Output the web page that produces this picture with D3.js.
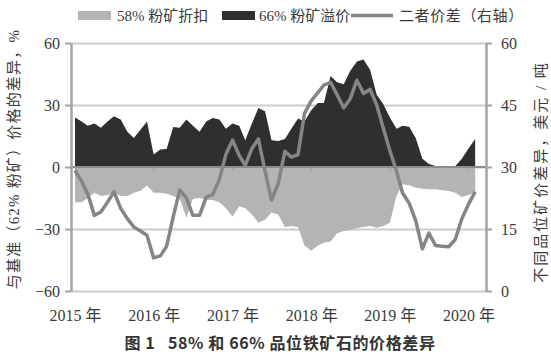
<!DOCTYPE html>
<html>
<head>
<meta charset="utf-8">
<script src="https://cdn.jsdelivr.net/npm/d3@7"></script>
<style>
  body { margin: 0; background: #fff; }
  svg { display: block; }
</style>
</head>
<body>
<div id="vis-container"></div>
<script>
const width = 551,
      height = 354,
      margin = {
          top: 43,
          bottom: 63,
          left: 71,
          right: 65,
      };

// monthly points, Jan 2015 .. Feb 2020
const startMonth = new Date(2015, 0, 1);

// 58% fines discount vs 62% benchmark, % (left axis)
const discount58 = [-17, -17, -15, -12.5, -14, -13.5, -12.5, -14, -14, -12.5,
    -11.5, -9, -12.5, -12.5, -13, -14, -15.5, -24.5, -15.5, -15,
    -16, -16, -17, -20, -24, -19, -20, -23, -27, -25.5,
    -22, -23, -29, -28.5, -29, -38, -40.5, -38, -36.6, -36,
    -32, -31, -30.5, -29.5, -29, -28.5, -29.4, -28.5, -27, -14,
    -8.4, -8.8, -10, -10.5, -10.8, -10.8, -11.2, -11.6, -12.5, -14.5,
    -13.5, -12.4];

// 66% fines premium vs 62% benchmark, % (left axis)
const premium66 = [24, 22, 20, 21, 19, 22, 24.5, 23, 17, 14,
    18, 22, 6, 8.5, 8.7, 19.4, 19, 23, 20, 17,
    22, 23.7, 23, 18.5, 21, 20, 13, 21, 28.5, 27,
    13, 12.6, 13.5, 18.5, 23.5, 22, 27.5, 31, 31, 44,
    41, 40, 46.5, 51, 52, 47, 35, 30.5, 24, 18.5,
    20, 19.5, 14, 4, 1.5, 0.5, 0.5, 0.5, 0.5, 4,
    9, 13.5];

// spread between the two, USD/t (right axis)
const spread = [29.2, 26.5, 23.5, 18.3, 19.1, 21.5, 24, 20, 17.5, 15.5,
    14.5, 13.5, 8, 8.5, 10.8, 18, 24.4, 22.5, 18.3, 18.3,
    22.7, 23.3, 27, 33, 36.5, 32.8, 30.4, 34.5, 36.8, 29,
    22, 26, 33.8, 32.4, 33, 43, 46, 48, 49.8, 50.5,
    47.5, 44.3, 46.5, 51, 47.8, 48.8, 45, 39.5, 34, 29,
    23.7, 21.2, 17, 10.2, 14, 11, 10.8, 10.7, 12.5, 17.5,
    21, 24];

const leftTicks = [-60, -30, 0, 30, 60];
const rightTicks = [0, 15, 30, 45, 60];
const years = [2015, 2016, 2017, 2018, 2019, 2020];

const legendLabels = ["58% 粉矿折扣", "66% 粉矿溢价", "二者价差（右轴）"];
const leftTitle = "与基准（62% 粉矿）价格的差异，%";
const rightTitle = "不同品位矿价差异，美元 / 吨";
const caption = "图 1   58% 和 66% 品位铁矿石的价格差异";

const colLight = "#b4b4b4",
      colDark = "#2f2f2f",
      colLine = "#858585",
      colGrid = "#cccccc",
      colAxis = "#a3a3a3",
      colText = "#3a3a3a";

const serif = "'Liberation Serif', 'Noto Sans CJK SC', serif";

var dataset = discount58.map(function(d, i) {
    return {
        date: d3.timeMonth.offset(startMonth, i),
        d58: d,
        p66: premium66[i],
        spread: spread[i]
    };
});

var plotLeft = margin.left,
    plotRight = width - margin.right,
    plotTop = margin.top,
    plotBottom = height - margin.bottom;

// ******* Scales *******
var x = d3.scaleTime()
    .domain([new Date(2015, 0, 1), new Date(2020, 0, 1)])
    .range([75, 468.5]);
var yL = d3.scaleLinear().domain([-60, 60]).range([plotBottom, plotTop]);
var yR = d3.scaleLinear().domain([0, 60]).range([plotBottom, plotTop]);

var svg = d3.select("#vis-container").append("svg")
    .attr("width", width)
    .attr("height", height);

// gridlines
svg.append("g")
    .attr("transform", `translate(${plotLeft} 0)`)
    .call(d3.axisLeft(yL).tickValues(leftTicks).tickSize(-(plotRight - plotLeft)).tickFormat(""))
    .call(g => g.select(".domain").remove())
    .call(g => g.selectAll("line").attr("stroke", colGrid).attr("stroke-width", 2));

// areas
svg.append("path")
    .datum(dataset)
    .attr("fill", colLight)
    .attr("d", d3.area().x(d => x(d.date)).y0(yL(0)).y1(d => yL(d.d58)));

svg.append("path")
    .datum(dataset)
    .attr("fill", colDark)
    .attr("d", d3.area().x(d => x(d.date)).y0(yL(0)).y1(d => yL(d.p66)));

// zero line with year ticks
svg.append("g")
    .attr("transform", `translate(0 ${yL(0)})`)
    .call(d3.axisBottom(x).ticks(d3.timeYear).tickSize(3).tickFormat(""))
    .call(g => g.select(".domain").attr("d", `M${plotLeft},0H${plotRight}`).attr("stroke", "#8c8c8c").attr("stroke-width", 2))
    .call(g => g.selectAll(".tick line").attr("stroke", "#9a9a9a"));

// spread line
svg.append("path")
    .datum(dataset)
    .attr("fill", "none")
    .attr("stroke", colLine)
    .attr("stroke-width", 3.5)
    .attr("stroke-linejoin", "round")
    .attr("d", d3.line().x(d => x(d.date)).y(d => yR(d.spread)));

// left axis
svg.append("g")
    .attr("transform", `translate(${plotLeft} 0)`)
    .call(d3.axisLeft(yL).tickValues(leftTicks).tickSize(6).tickPadding(5).tickSizeOuter(0)
        .tickFormat(d => d < 0 ? "\u2212" + Math.abs(d) : d))
    .call(g => g.select(".domain").attr("stroke", colAxis).attr("stroke-width", 2.5))
    .call(g => g.selectAll(".tick line").attr("stroke", colAxis).attr("stroke-width", 2))
    .call(g => g.selectAll("text").attr("font-family", serif).attr("font-size", 16).attr("fill", colText));

// right axis
svg.append("g")
    .attr("transform", `translate(${plotRight} 0)`)
    .call(d3.axisRight(yR).tickValues(rightTicks).tickSize(6).tickPadding(9).tickSizeOuter(0))
    .call(g => g.select(".domain").attr("stroke", colAxis).attr("stroke-width", 2.5))
    .call(g => g.selectAll(".tick line").attr("stroke", colAxis).attr("stroke-width", 2))
    .call(g => g.selectAll("text").attr("font-family", serif).attr("font-size", 16).attr("fill", colText));

// year labels
svg.append("g")
    .attr("transform", `translate(0 ${plotBottom})`)
    .call(d3.axisBottom(x).tickValues(years.map(y => new Date(y, 0, 1))).tickSize(0).tickPadding(19)
        .tickFormat(d => d.getFullYear() + " 年"))
    .call(g => g.select(".domain").remove())
    .call(g => g.selectAll("text").attr("font-family", serif).attr("font-size", 16).attr("fill", colText));

// axis titles
svg.append("text")
    .attr("transform", "translate(19 159) rotate(-90)")
    .attr("text-anchor", "middle")
    .attr("font-family", serif)
    .attr("font-size", 15)
    .attr("letter-spacing", 1.2)
    .attr("fill", colText)
    .text(leftTitle);

svg.append("text")
    .attr("transform", "translate(546 172) rotate(-90)")
    .attr("text-anchor", "middle")
    .attr("font-family", serif)
    .attr("font-size", 15)
    .attr("letter-spacing", 2)
    .attr("fill", colText)
    .text(rightTitle);

// legend
var legend = svg.append("g").attr("font-family", serif).attr("font-size", 15).attr("fill", colText);
legend.append("rect").attr("x", 78).attr("y", 11).attr("width", 33).attr("height", 9).attr("fill", colLight);
legend.append("text").attr("x", 117).attr("y", 21).text(legendLabels[0]);
legend.append("rect").attr("x", 222).attr("y", 11).attr("width", 33).attr("height", 9).attr("fill", colDark);
legend.append("text").attr("x", 259).attr("y", 21).text(legendLabels[1]);
legend.append("line").attr("x1", 351).attr("x2", 393).attr("y1", 15.5).attr("y2", 15.5)
    .attr("stroke", colLine).attr("stroke-width", 3.5);
legend.append("text").attr("x", 399).attr("y", 21).attr("letter-spacing", 0.6).text(legendLabels[2]);

// caption
svg.append("text")
    .attr("x", 280)
    .attr("y", 349)
    .attr("text-anchor", "middle")
    .attr("font-family", "'Noto Sans CJK SC', sans-serif")
    .attr("font-weight", "bold")
    .attr("font-size", 16)
    .attr("letter-spacing", 0.6)
    .attr("fill", "#333")
    .style("white-space", "pre")
    .text(caption);
</script>
</body>
</html>
